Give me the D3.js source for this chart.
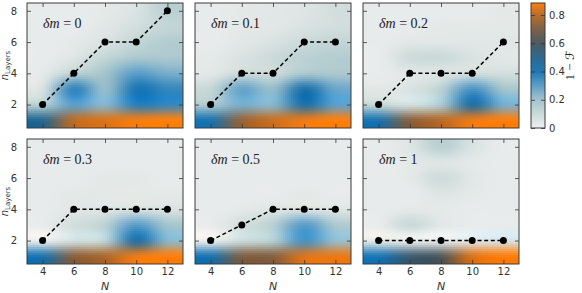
<!DOCTYPE html>
<html><head><meta charset="utf-8">
<script src="https://cdn.jsdelivr.net/npm/d3@7"></script>
<style>body{margin:0;background:#fff}svg{display:block}</style>
</head><body>
<svg id="chart" width="582" height="293"></svg>
<script>
// ---------------- data ----------------
const N_VALUES = [4, 6, 8, 10, 12];
const LAYERS = [1, 2, 3, 4, 5, 6, 7, 8];
const DM_LABELS = ["0", "0.1", "0.2", "0.3", "0.5", "1"];
const X_TICKS = [4, 6, 8, 10, 12];
const Y_TICKS = [2, 4, 6, 8];
const CB_TICKS = [0, 0.2, 0.4, 0.6, 0.8];

// optimal number of layers per N (dashed line)
const optLayers_dm0   = [2, 4, 6, 6, 8];
const optLayers_dm01  = [2, 4, 4, 6, 6];
const optLayers_dm02  = [2, 4, 4, 4, 6];
const optLayers_dm03  = [2, 4, 4, 4, 4];
const optLayers_dm05  = [2, 3, 4, 4, 4];
const optLayers_dm1   = [2, 2, 2, 2, 2];

// infidelity 1-F, rows = n_Layers 1..8, cols = N 4..12
const infid_dm0 = [
  [0.50, 0.80, 0.84, 0.87, 0.885],
  [0.16, 0.30, 0.24, 0.38, 0.36],
  [0.07, 0.36, 0.22, 0.40, 0.36],
  [0.03, 0.14, 0.20, 0.30, 0.26],
  [0.02, 0.05, 0.12, 0.18, 0.18],
  [0.02, 0.03, 0.06, 0.12, 0.16],
  [0.02, 0.02, 0.04, 0.08, 0.12],
  [0.02, 0.02, 0.03, 0.06, 0.14]
];
const infid_dm01 = [
  [0.42, 0.74, 0.82, 0.86, 0.885],
  [0.18, 0.26, 0.24, 0.44, 0.30],
  [0.12, 0.28, 0.22, 0.42, 0.28],
  [0.04, 0.10, 0.10, 0.18, 0.18],
  [0.03, 0.06, 0.10, 0.14, 0.16],
  [0.02, 0.04, 0.06, 0.10, 0.12],
  [0.02, 0.03, 0.04, 0.06, 0.08],
  [0.02, 0.03, 0.04, 0.05, 0.08]
];
const infid_dm02 = [
  [0.42, 0.72, 0.80, 0.86, 0.885],
  [0.12, 0.08, 0.18, 0.45, 0.26],
  [0.04, 0.06, 0.14, 0.32, 0.20],
  [0.02, 0.04, 0.05, 0.08, 0.08],
  [0.02, 0.09, 0.10, 0.06, 0.04],
  [0.02, 0.04, 0.04, 0.04, 0.04],
  [0.02, 0.02, 0.03, 0.03, 0.03],
  [0.02, 0.02, 0.02, 0.02, 0.03]
];
const infid_dm03 = [
  [0.42, 0.72, 0.78, 0.86, 0.885],
  [0.02, 0.08, 0.14, 0.44, 0.24],
  [0.02, 0.08, 0.14, 0.30, 0.20],
  [0.02, 0.04, 0.05, 0.07, 0.06],
  [0.02, 0.03, 0.03, 0.03, 0.03],
  [0.02, 0.02, 0.03, 0.03, 0.02],
  [0.02, 0.02, 0.02, 0.02, 0.02],
  [0.02, 0.02, 0.02, 0.02, 0.02]
];
const infid_dm05 = [
  [0.42, 0.70, 0.72, 0.84, 0.86],
  [0.02, 0.10, 0.16, 0.33, 0.22],
  [0.02, 0.08, 0.15, 0.30, 0.18],
  [0.02, 0.03, 0.05, 0.06, 0.05],
  [0.02, 0.02, 0.02, 0.03, 0.02],
  [0.02, 0.02, 0.02, 0.02, 0.02],
  [0.02, 0.02, 0.02, 0.02, 0.02],
  [0.02, 0.02, 0.02, 0.02, 0.02]
];
const infid_dm1 = [
  [0.40, 0.56, 0.62, 0.84, 0.885],
  [0.03, 0.02, 0.02, 0.04, 0.06],
  [0.02, 0.10, 0.04, 0.02, 0.02],
  [0.02, 0.03, 0.03, 0.02, 0.02],
  [0.02, 0.02, 0.05, 0.03, 0.02],
  [0.02, 0.03, 0.09, 0.04, 0.02],
  [0.02, 0.03, 0.05, 0.03, 0.02],
  [0.02, 0.05, 0.14, 0.06, 0.02]
];

const panels = [
  {dm: DM_LABELS[0], grid: infid_dm0,  opt: optLayers_dm0},
  {dm: DM_LABELS[1], grid: infid_dm01, opt: optLayers_dm01},
  {dm: DM_LABELS[2], grid: infid_dm02, opt: optLayers_dm02},
  {dm: DM_LABELS[3], grid: infid_dm03, opt: optLayers_dm03},
  {dm: DM_LABELS[4], grid: infid_dm05, opt: optLayers_dm05},
  {dm: DM_LABELS[5], grid: infid_dm1,  opt: optLayers_dm1}
];

// ---------------- layout ----------------
const VMAX = 0.885;
const PW = 156, PH = 125;
const COL_X = [27, 195, 363];
const ROW_Y = [3, 139];
const STEP = 2;

const color = d3.scaleLinear()
  .domain([0, 0.1, 0.2, 0.3, 0.4, 0.5, 0.6, 0.7, 0.8, VMAX])
  .range(["#efefef", "#cbdad9", "#a3c4cc", "#5c9ec8", "#1f78b4", "#2d6a8e", "#4c5a62", "#7c6249", "#b86d2c", "#ff7f0e"])
  .clamp(true);

const svg = d3.select("#chart");
const TICK_FONT = "DejaVu Sans, sans-serif";
const TICK_COL = "#333";

// Keys bicubic kernel (a = -0.5)
function kern(t) {
  const a = -0.5; t = Math.abs(t);
  if (t <= 1) return (a + 2) * t * t * t - (a + 3) * t * t + 1;
  if (t < 2) return a * t * t * t - 5 * a * t * t + 8 * a * t - 4 * a;
  return 0;
}
// interpolate in colour (rgb) space, like an rgba-stage resample of the image
function sampleRGB(cgrid, gx, gy) {
  const rows = cgrid.length, cols = cgrid[0].length;
  const ix = Math.floor(gx), iy = Math.floor(gy);
  let r = 0, g = 0, b = 0;
  for (let j = -1; j <= 2; j++) {
    const wy = kern(gy - (iy + j));
    const rr = Math.min(rows - 1, Math.max(0, iy + j));
    for (let i = -1; i <= 2; i++) {
      const w = kern(gx - (ix + i)) * wy;
      const cc = Math.min(cols - 1, Math.max(0, ix + i));
      const c = cgrid[rr][cc];
      r += w * c.r; g += w * c.g; b += w * c.b;
    }
  }
  const cl = v => Math.max(0, Math.min(255, Math.round(v)));
  return `rgb(${cl(r)},${cl(g)},${cl(b)})`;
}

const defs = svg.append("defs");

panels.forEach((p, k) => {
  const col = k % 3, row = Math.floor(k / 3);
  const x = d3.scaleLinear().domain([3, 13]).range([0, PW]);
  const y = d3.scaleLinear().domain([0.5, 8.5]).range([PH, 0]);
  const nIdx = d3.scaleLinear().domain([N_VALUES[0], N_VALUES[N_VALUES.length - 1]]).range([0, N_VALUES.length - 1]);
  const lIdx = d3.scaleLinear().domain([LAYERS[0], LAYERS[LAYERS.length - 1]]).range([0, LAYERS.length - 1]);
  const cgrid = p.grid.map(rowv => rowv.map(v => d3.rgb(color(v))));

  const g = svg.append("g").attr("transform", `translate(${COL_X[col]},${ROW_Y[row]})`);
  defs.append("clipPath").attr("id", "clip" + k)
    .append("rect").attr("width", PW).attr("height", PH);

  const cells = [];
  for (let px = 0; px < PW; px += STEP) {
    for (let py = 0; py < PH; py += STEP) {
      const xv = x.invert(px + STEP / 2), yv = y.invert(py + STEP / 2);
      cells.push({px, py, c: sampleRGB(cgrid, nIdx(xv), lIdx(yv))});
    }
  }
  g.append("g").attr("clip-path", `url(#clip${k})`)
    .selectAll("rect").data(cells).join("rect")
    .attr("x", d => d.px).attr("y", d => d.py)
    .attr("width", STEP + 0.3).attr("height", STEP + 0.3)
    .attr("fill", d => d.c)
    .attr("shape-rendering", "crispEdges");

  const axB = d3.axisBottom(x).tickValues(X_TICKS).tickSize(-4).tickPadding(4);
  const axT = d3.axisTop(x).tickValues(X_TICKS).tickSize(-4).tickFormat("");
  const axL = d3.axisLeft(y).tickValues(Y_TICKS).tickSize(-4).tickPadding(10);
  const axR = d3.axisRight(y).tickValues(Y_TICKS).tickSize(-4).tickFormat("");
  if (row === 1) { axB.tickFormat(d3.format("d")); } else { axB.tickFormat(""); }
  if (col === 0) { axL.tickFormat(d3.format("d")); } else { axL.tickFormat(""); }

  const styleAxis = sel => {
    sel.select(".domain").remove();
    sel.selectAll("line").attr("stroke", TICK_COL).attr("stroke-width", 0.8);
    sel.selectAll("text").attr("fill", TICK_COL).attr("font-family", TICK_FONT).attr("font-size", 10);
  };
  g.append("g").attr("transform", `translate(0,${PH})`).call(axB).call(styleAxis);
  g.append("g").call(axT).call(styleAxis);
  g.append("g").call(axL).call(styleAxis);
  g.append("g").attr("transform", `translate(${PW},0)`).call(axR).call(styleAxis);

  g.append("rect").attr("width", PW).attr("height", PH)
    .attr("fill", "none").attr("stroke", "#3a3a3a").attr("stroke-width", 1);

  const pts = N_VALUES.map((n, i) => ({n, l: p.opt[i]}));
  g.append("path").datum(pts)
    .attr("d", d3.line().x(d => x(d.n)).y(d => y(d.l)))
    .attr("fill", "none").attr("stroke", "#000").attr("stroke-width", 1.5)
    .attr("stroke-dasharray", "4,2.6");
  g.selectAll("circle").data(pts).join("circle")
    .attr("cx", d => x(d.n)).attr("cy", d => y(d.l)).attr("r", 3.5).attr("fill", "#000");

  const t = g.append("text").attr("x", 16).attr("y", 25)
    .attr("font-family", "Liberation Serif, DejaVu Serif, serif").attr("font-size", 14).attr("fill", "#222");
  t.append("tspan").attr("font-style", "italic").text("δm");
  t.append("tspan").text(" = " + p.dm);

  if (col === 0) {
    const yl = g.append("text")
      .attr("transform", `translate(${-19},${PH / 2}) rotate(-90)`)
      .attr("text-anchor", "middle").attr("font-family", TICK_FONT).attr("fill", TICK_COL);
    yl.append("tspan").attr("font-style", "italic").attr("font-size", 10).text("n");
    yl.append("tspan").attr("font-size", 7).attr("dy", 2).text("Layers");
  }
  if (row === 1) {
    g.append("text").attr("x", PW / 2).attr("y", PH + 26)
      .attr("text-anchor", "middle").attr("font-family", TICK_FONT)
      .attr("font-style", "italic").attr("font-size", 11).attr("fill", TICK_COL).text("N");
  }
});

// ---------------- colorbar ----------------
const CB_X = 531, CB_W = 14, CB_Y = 3, CB_H = 125;
const yc = d3.scaleLinear().domain([0, VMAX]).range([CB_Y + CB_H, CB_Y]);
const cb = svg.append("g");
cb.selectAll("rect").data(d3.range(CB_Y, CB_Y + CB_H)).join("rect")
  .attr("x", CB_X).attr("y", d => d).attr("width", CB_W).attr("height", 1.2)
  .attr("fill", d => color(yc.invert(d + 0.5))).attr("shape-rendering", "crispEdges");
cb.append("rect").attr("x", CB_X).attr("y", CB_Y).attr("width", CB_W).attr("height", CB_H)
  .attr("fill", "none").attr("stroke", "#3a3a3a").attr("stroke-width", 1);
const cbAxL = d3.axisLeft(yc).tickValues(CB_TICKS).tickSize(-4).tickFormat("");
const cbAxR = d3.axisRight(yc).tickValues(CB_TICKS).tickSize(4).tickPadding(4)
  .tickFormat(d => d === 0 ? "0" : d3.format(".1f")(d));
cb.append("g").attr("transform", `translate(${CB_X},0)`).call(cbAxL)
  .call(s => { s.select(".domain").remove(); s.selectAll("line").attr("stroke", TICK_COL).attr("stroke-width", 0.8); });
const cbR = cb.append("g").attr("transform", `translate(${CB_X + CB_W},0)`).call(cbAxR);
cbR.select(".domain").remove();
cbR.selectAll("line").attr("stroke", TICK_COL).attr("stroke-width", 0.8).attr("x1", -4).attr("x2", 0);
cbR.selectAll("text").attr("fill", TICK_COL).attr("font-family", TICK_FONT).attr("font-size", 10).attr("x", 4);
const cl = svg.append("text")
  .attr("transform", `translate(574,${CB_Y + CB_H / 2}) rotate(-90)`)
  .attr("text-anchor", "middle").attr("font-family", "Liberation Serif, DejaVu Serif, serif")
  .attr("font-size", 13).attr("fill", "#222");
cl.append("tspan").text("1 − ");
cl.append("tspan").attr("font-family", "DejaVu Sans, sans-serif").attr("font-size", 12).text("ℱ");
</script>
</body></html>
